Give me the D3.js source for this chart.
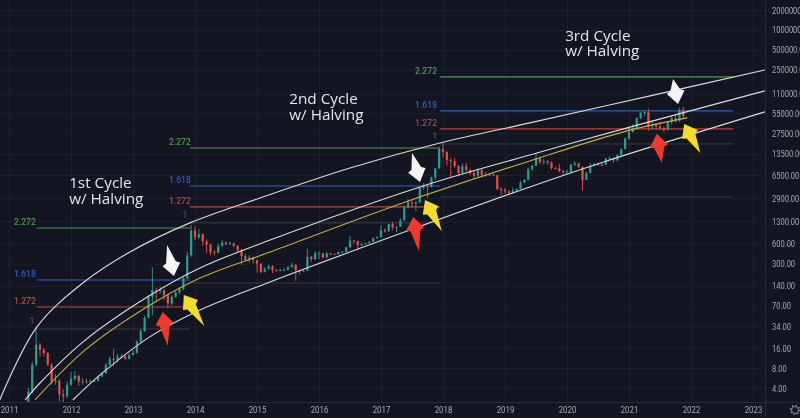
<!DOCTYPE html>
<html>
<head>
<meta charset="utf-8">
<script src="https://cdn.jsdelivr.net/npm/d3@7/dist/d3.min.js"></script>
<style>
html,body{margin:0;padding:0;background:#131620;overflow:hidden}
svg{display:block;filter:blur(0.35px)}
</style>
</head>
<body>
<svg id="c" width="800" height="418"></svg>
<script>
const priceTicks=[2000000,1000000,500000,250000,110000,55000,27500,13500,6500,2900,1300,600,300,140,70,34,16,8,4];
const yearTicks=[2011,2012,2013,2014,2015,2016,2017,2018,2019,2020,2021,2022,2023];

const firstCandleYear=2011.3125, candlesPerYear=16, firstOpen=1.2;
const closes=[
3.5,9,18,15,13.5,9,5,5.1,3.2,3,4.5,
5.5,6.1,5,5,4.9,5.1,5.1,6,6.7,8.9,11,10.5,12,12,11,12.5,
13.5,20,29,46,95,120,118,120,100,75,95,110,125,180,400,950,
750,830,650,580,450,440,550,620,590,610,560,480,390,340,370,340,
300,225,250,275,240,235,240,240,265,285,240,230,235,380,350,430,
430,370,430,420,415,450,450,530,670,660,570,590,610,640,730,750,
960,920,1180,1050,1080,1350,2100,2500,2400,2500,4200,4500,4300,6000,8200,16000,
14500,11000,10500,8900,7000,8800,7800,7000,6300,7700,6500,6400,6600,6400,4000,3900,
3700,3500,3800,4000,5000,5500,8000,9000,11500,10200,10500,10000,8300,8200,7500,7200,
7200,9300,9800,8600,5500,7000,9000,9500,9200,9300,11500,11700,10800,13000,16000,23000,
29000,33000,47000,57000,58000,35000,37000,35000,33000,31000,41000,47000,43000,62000,50000];
const highs=[
4,10,32,19,16,14,9.5,6.5,5.5,3.8,5,
7,7.2,6.3,5.6,5.5,5.4,5.4,6.2,7,9.5,12,15.4,13,13,12.5,13.6,
15,21,31,49,100,266,130,135,122,105,100,115,130,190,450,1150,
1100,1000,870,700,600,480,600,680,660,650,620,565,500,420,400,385,
340,300,265,290,285,250,250,255,275,310,295,240,245,500,390,460,
460,430,445,430,425,455,460,540,780,680,660,610,620,660,740,780,
1150,1030,1190,1280,1100,1450,2300,2800,2750,2620,4400,4900,4500,6150,8300,17000,
19700,14900,11800,11700,9100,9700,9900,7900,7400,8300,8000,7200,6800,6700,6500,4300,
4200,3800,4200,4100,5400,5700,8400,9300,13800,12300,11200,10900,10400,8700,9500,7700,
7900,9600,10500,9900,8800,7300,9900,10000,9900,9800,11800,12400,11800,13300,16500,24000,
34000,38000,48000,58000,61000,65000,43000,39000,41000,34500,42000,50000,52000,68000,69000];
const lows=[
1,3.3,8.5,12,12,8.5,4.5,4.5,2.5,2.1,2.8,
4.3,5.2,4.3,4.5,4.7,4.7,4.9,5,5.8,6.5,8.8,8.5,9.8,11,10.6,10.8,
12.8,13.4,19,28,45,50,80,105,85,65,70,92,105,118,175,380,
680,700,560,430,400,400,430,540,570,580,530,440,290,320,310,300,
220,215,220,245,215,225,230,235,240,265,165,205,228,235,320,340,
350,360,370,400,410,415,440,450,520,600,470,560,590,605,640,720,
780,880,910,950,890,1070,1350,2050,2100,1850,2500,3900,2950,4200,5500,8100,
12000,9000,6000,8300,6500,6800,7200,6500,5800,6100,6000,6100,6300,6200,3800,3200,
3400,3300,3450,3750,3950,4900,5400,7500,8900,9500,9500,9300,7800,7900,7100,6500,
6900,7100,8900,8300,3800,5800,6800,8700,8900,8900,9200,11000,10000,10400,13000,15800,
22000,28500,32000,45000,50000,30000,31000,31000,31000,29000,30500,37500,40000,41000,47000];

const upperCurve=[[2010.85,2.64],[2011.45,33.3],[2012.19,153],[2012.95,449],[2013.92,1234],[2015.05,2936],[2016.5,8300],[2017.95,19760],[2019.4,39780],[2021.34,101400],[2023.19,249600]];
const middleCurve=[[2011.26,2.64],[2011.5,4.76],[2012.19,19.7],[2013.23,94],[2014.08,258],[2015.21,681],[2017.63,4300],[2019.4,13040],[2020.97,33400],[2023.19,120600]];
const yellowCurve=[[2011.42,2.64],[2012.23,15],[2013.23,67],[2014.08,182],[2015.21,449],[2017.35,2470],[2019.4,10600],[2020.97,30100],[2021.94,47300]];
const lowerCurve=[[2012.03,2.64],[2012.47,6.3],[2013.27,23.6],[2014.08,60],[2015.21,159],[2017.47,965],[2019.4,4300],[2020.69,10960],[2023.19,58200]];

const fibLevels=["2.272","1.618","1.272","1"];
const fibColors=["#4c9a50","#2f5cc0","#c2413d","#3d4048"];
const cycle1Fib={from:2011.45,to:2013.92,prices:[1036,170,66.6,31],labelYear:2011.08};
const cycle2Fib={from:2013.92,to:2017.95,prices:[16620,4450,2150,1233],labelYear:2013.58};
const cycle3Fib={from:2017.95,to:2022.68,prices:[196000,60200,32300,19100],labelYear:2017.55};
const extraGreyLevels=[[2013.92,2017.95,153],[2017.95,2022.68,3040]];

const titleLines=[["1st Cycle","w/ Halving"],["2nd Cycle","w/ Halving"],["3rd Cycle","w/ Halving"]];
const titleYears=[2011.97,2015.52,2019.97];
const titlePrices=[[4150,2385],[76800,44100],[683000,406000]];

const arrowColors={white:"#f4f4f4",yellow:"#f6dc2a",red:"#ee3a2c"};
const arrows=[
["white",2013.55,574,2013.66,195],["yellow",2014.15,34.4,2013.82,101],["red",2013.56,17.2,2013.48,56],
["white",2017.5,13980,2017.63,5115],["yellow",2017.98,933,2017.71,2740],["red",2017.61,466,2017.52,1517],
["white",2021.71,182800,2021.79,76800],["yellow",2022.15,13980,2021.89,38360],["red",2021.53,9880,2021.45,27160]];

const W=800,H=418,plotR=765,plotB=402;
const x=d3.scaleLinear().domain([2011,2023]).range([9,753]);
const y=d3.scaleLog().base(2).domain([4,2000000]).range([388,10]);
const svg=d3.select("#c");
const font="Roboto,'Open Sans',sans-serif";
svg.append("defs").append("clipPath").attr("id","plot").append("rect").attr("width",plotR).attr("height",plotB);

// grid
const gridY=svg.append("g").call(d3.axisRight(y).tickValues(priceTicks).tickSize(plotR).tickFormat(""));
const gridX=svg.append("g").call(d3.axisBottom(x).tickValues(yearTicks).tickSize(plotB).tickFormat(""));
[gridY,gridX].forEach(g=>{g.select(".domain").remove();g.selectAll("line").attr("stroke","#1d212c").attr("stroke-width",1);});

// axes
const yAxis=svg.append("g").attr("transform",`translate(${plotR},0)`)
  .call(d3.axisRight(y).tickValues(priceTicks).tickSize(0).tickPadding(8.75).tickFormat(d3.format(".2f")));
yAxis.select(".domain").remove();
yAxis.selectAll("text").attr("fill","#a7a9af").attr("font-family",font).attr("font-size",9.4).attr("transform","scale(0.8,1)");
const xAxis=svg.append("g").attr("transform",`translate(0,${plotB})`)
  .call(d3.axisBottom(x).tickValues(yearTicks).tickSize(0).tickPadding(4).tickFormat(d3.format("d")));
xAxis.select(".domain").remove();
xAxis.selectAll("text").attr("fill","#a7a9af").attr("font-family",font).attr("font-size",9.6).attr("transform","scale(0.82,1)");
svg.append("line").attr("x1",plotR+.5).attr("x2",plotR+.5).attr("y1",0).attr("y2",H).attr("stroke","#262a35");
svg.append("line").attr("x1",0).attr("x2",W).attr("y1",plotB+.5).attr("y2",plotB+.5).attr("stroke","#262a35");

// gear
svg.append("circle").attr("cx",795).attr("cy",410).attr("r",3.5).attr("fill","none").attr("stroke","#8b8e96").attr("stroke-width",1);
svg.append("circle").attr("cx",795).attr("cy",410).attr("r",4.6).attr("fill","none").attr("stroke","#8b8e96").attr("stroke-width",1.4).attr("stroke-dasharray","1.4 2.2");

const plot=svg.append("g").attr("clip-path","url(#plot)");

// fib levels
[cycle1Fib,cycle2Fib,cycle3Fib].forEach(c=>{
  c.prices.forEach((p,i)=>{
    plot.append("line").attr("x1",x(c.from)).attr("x2",x(c.to)).attr("y1",y(p)).attr("y2",y(p))
      .attr("stroke",fibColors[i]).attr("stroke-width",i===3?0.9:1.1);
    const isOne=fibLevels[i]==="1";
    plot.append("text").text(fibLevels[i])
      .attr("x",isOne?x(c.from)-5:x(c.labelYear)).attr("y",y(p)-(isOne?5:3))
      .attr("text-anchor",isOne?"middle":"start")
      .attr("fill",isOne?"#4a4d55":fibColors[i]).attr("font-family",font).attr("font-size",8.6).attr("font-weight",500);
  });
});
extraGreyLevels.forEach(e=>plot.append("line").attr("x1",x(e[0])).attr("x2",x(e[1])).attr("y1",y(e[2])).attr("y2",y(e[2])).attr("stroke","#3d4048").attr("stroke-width",.9));

// candles
const cand=closes.map((c,i)=>({t:firstCandleYear+i/candlesPerYear,o:i?closes[i-1]:firstOpen,c,h:highs[i],l:lows[i]}));
const g=plot.append("g").selectAll("g").data(cand).join("g").attr("fill",d=>d.c>=d.o?"#2a9d8f":"#e5504c").attr("stroke",d=>d.c>=d.o?"#2a9d8f":"#e5504c");
g.append("line").attr("x1",d=>x(d.t)).attr("x2",d=>x(d.t)).attr("y1",d=>y(d.h)).attr("y2",d=>y(d.l)).attr("stroke-width",0.9);
g.append("rect").attr("x",d=>x(d.t)-1.1).attr("width",2.2).attr("stroke","none")
  .attr("y",d=>Math.min(y(d.o),y(d.c))).attr("height",d=>Math.max(1,Math.abs(y(d.o)-y(d.c))));

// curves
const line=d3.line().x(d=>x(d[0])).y(d=>y(d[1])).curve(d3.curveCatmullRom.alpha(0.5));
[upperCurve,middleCurve,lowerCurve].forEach(c=>plot.append("path").attr("d",line(c)).attr("fill","none").attr("stroke","#d9dadc").attr("stroke-width",1.15));
plot.append("path").attr("d",line(yellowCurve)).attr("fill","none").attr("stroke","#c2ad40").attr("stroke-width",1.1);

// arrows
arrows.forEach(a=>{
  const tx=x(a[1]),ty=y(a[2]),px=x(a[3]),py=y(a[4]);
  const dx=tx-px,dy=ty-py,len=Math.hypot(dx,dy),ux=dx/len,uy=dy/len,nx=-uy,ny=ux;
  const pt=(back,side)=>[px+ux*back+nx*side,py+uy*back+ny*side];
  const pts=[[tx,ty],pt(14,5),pt(12,9),[px,py],pt(12,-9),pt(14,-5)];
  svg.append("polygon").attr("points",pts.map(p=>p.join(",")).join(" ")).attr("fill",arrowColors[a[0]]);
});

// titles
titleLines.forEach((t,i)=>{
  const tx=svg.append("text").attr("fill","#e4e5e7").attr("font-family","'Open Sans',sans-serif").attr("font-size",15.3);
  t.forEach((s,j)=>tx.append("tspan").attr("x",x(titleYears[i])).attr("y",y(titlePrices[i][j])).text(s));
});
</script>
</body>
</html>
